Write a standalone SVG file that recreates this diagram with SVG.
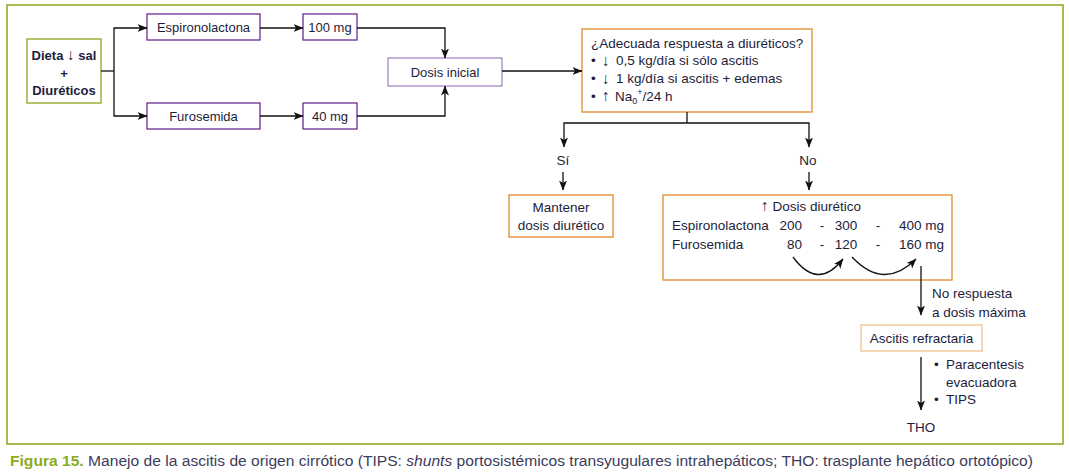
<svg xmlns="http://www.w3.org/2000/svg" width="1069" height="476" viewBox="0 0 1069 476">
<style>
text{font-family:"Liberation Sans",Arial,sans-serif;font-size:13px;fill:#1d1d3b}
.c{text-anchor:middle}
.e{text-anchor:end}
.b{font-weight:bold}
.m{font-size:13.5px}
.ar{font-family:"Liberation Sans",Arial,sans-serif;font-size:15.5px;font-weight:normal}
.box{fill:#fff;stroke-width:1.3}
.pu{stroke:#6b2c91}
.lp{stroke:#a58bc4}
.or{stroke:#e38b2c}
.lo{stroke:#f3c08e}
.gr{stroke:#8aa51c}
.ln{fill:none;stroke:#111;stroke-width:1.3}
.cap{font-size:14px;fill:#3c3c5c}
</style>
<defs>
<marker id="ah" viewBox="0 0 10 8" refX="9.5" refY="4" markerWidth="10" markerHeight="8" markerUnits="userSpaceOnUse" orient="auto">
<path d="M0,0 L10,4 L0,8 L2.5,4 z" fill="#111"/>
</marker>
</defs>
<rect x="7" y="5" width="1056" height="439" fill="none" stroke="#8aa51c" stroke-width="1.5"/>

<g id="dieta">
<rect class="box gr" x="27" y="39" width="74" height="64"/>
<text class="c b" x="64" y="60">Dieta <tspan class="ar">↓</tspan> sal</text>
<text class="c b" x="64" y="78">+</text>
<text class="c b" x="64" y="95">Diuréticos</text>
</g>
<g id="espironolactona">
<rect class="box pu" x="147" y="14" width="113" height="26"/>
<text class="c" x="203.5" y="32">Espironolactona</text>
</g>
<g id="furosemida">
<rect class="box pu" x="147" y="103" width="113" height="26"/>
<text class="c" x="203.5" y="121">Furosemida</text>
</g>
<g id="dose100">
<rect class="box pu" x="303" y="14" width="54" height="26"/>
<text class="c" x="330" y="32">100 mg</text>
</g>
<g id="dose40">
<rect class="box pu" x="303" y="103" width="54" height="26"/>
<text class="c" x="330" y="121">40 mg</text>
</g>
<g id="dosisinicial">
<rect class="box lp" x="388" y="58" width="114" height="28"/>
<text class="c" x="445" y="77">Dosis inicial</text>
</g>
<g id="pregunta">
<rect class="box or" x="582" y="29" width="230" height="83"/>
<text class="m" x="591" y="48">¿Adecuada respuesta a diuréticos?</text>
<text class="m" x="591" y="65">•</text><text class="ar" x="602" y="66">↓</text><text class="m" x="616" y="65">0,5 kg/día si sólo ascitis</text>
<text class="m" x="591" y="83">•</text><text class="ar" x="602" y="84">↓</text><text class="m" x="616" y="83">1 kg/día si ascitis + edemas</text>
<text class="m" x="591" y="101">•</text><text class="ar" x="602" y="101">↑</text><text class="m" x="615" y="101">Na<tspan font-size="9" dy="3">0</tspan><tspan font-size="9" dy="-9">+</tspan><tspan dy="6">/24 h</tspan></text>
</g>
<g id="si"><text class="c m" x="563" y="165">Sí</text></g>
<g id="no"><text class="c m" x="808" y="165">No</text></g>
<g id="mantener">
<rect class="box or" x="509" y="195" width="104" height="42"/>
<text class="c m" x="561" y="212">Mantener</text>
<text class="c m" x="561" y="230">dosis diurético</text>
</g>
<g id="dosisdiuretico">
<rect class="box or" x="663" y="195" width="289" height="85"/>
<text class="c m" x="811" y="211"><tspan class="ar">↑</tspan> Dosis diurético</text>
<text class="m" x="672" y="230">Espironolactona</text>
<text class="e m" x="802" y="230">200</text>
<text class="c m" x="822" y="230">-</text>
<text class="c m" x="846" y="230">300</text>
<text class="c m" x="878" y="230">-</text>
<text class="e m" x="944" y="230">400 mg</text>
<text class="m" x="672" y="249">Furosemida</text>
<text class="e m" x="802" y="249">80</text>
<text class="c m" x="822" y="249">-</text>
<text class="c m" x="846" y="249">120</text>
<text class="c m" x="878" y="249">-</text>
<text class="e m" x="944" y="249">160 mg</text>
</g>
<g id="norespuesta">
<text class="m" x="932" y="298">No respuesta</text>
<text class="m" x="932" y="317">a dosis máxima</text>
</g>
<g id="refractaria">
<rect class="box lo" x="861" y="325" width="121" height="26"/>
<text class="c m" x="921.5" y="343">Ascitis refractaria</text>
</g>
<g id="tratamientos">
<text class="m" x="934" y="369">•</text><text class="m" x="946" y="369">Paracentesis</text>
<text class="m" x="946" y="387">evacuadora</text>
<text class="m" x="934" y="404">•</text><text class="m" x="946" y="404">TIPS</text>
</g>
<g id="tho"><text class="c m" x="921" y="432">THO</text></g>

<g id="connectors">
<path class="ln" d="M101,71 H114"/>
<path class="ln" d="M114,71 V28 H147" marker-end="url(#ah)"/>
<path class="ln" d="M114,71 V116 H147" marker-end="url(#ah)"/>
<path class="ln" d="M260,28 H303" marker-end="url(#ah)"/>
<path class="ln" d="M260,116 H303" marker-end="url(#ah)"/>
<path class="ln" d="M357,28 H445 V58" marker-end="url(#ah)"/>
<path class="ln" d="M357,116 H445 V86" marker-end="url(#ah)"/>
<path class="ln" d="M502,71 H582" marker-end="url(#ah)"/>
<path class="ln" d="M687,112 V123"/>
<path class="ln" d="M687,123 H564 V147" marker-end="url(#ah)"/>
<path class="ln" d="M687,123 H809 V147" marker-end="url(#ah)"/>
<path class="ln" d="M563,172 V190" marker-end="url(#ah)"/>
<path class="ln" d="M809,172 V190" marker-end="url(#ah)"/>
<path class="ln" d="M793,257 Q818,291 843,259" stroke-width="1" marker-end="url(#ah)"/>
<path class="ln" d="M852,257 Q884,291 916,259" stroke-width="1" marker-end="url(#ah)"/>
<path class="ln" d="M921,266 V315" marker-end="url(#ah)"/>
<path class="ln" d="M921,357 V410" marker-end="url(#ah)"/>
</g>

<text class="cap" x="10" y="466" textLength="1023" lengthAdjust="spacingAndGlyphs"><tspan fill="#8aab1c" font-weight="bold">Figura 15.</tspan> Manejo de la ascitis de origen cirrótico (TIPS: <tspan font-style="italic">shunts</tspan> portosistémicos transyugulares intrahepáticos; THO: trasplante hepático ortotópico)</text>
</svg>
